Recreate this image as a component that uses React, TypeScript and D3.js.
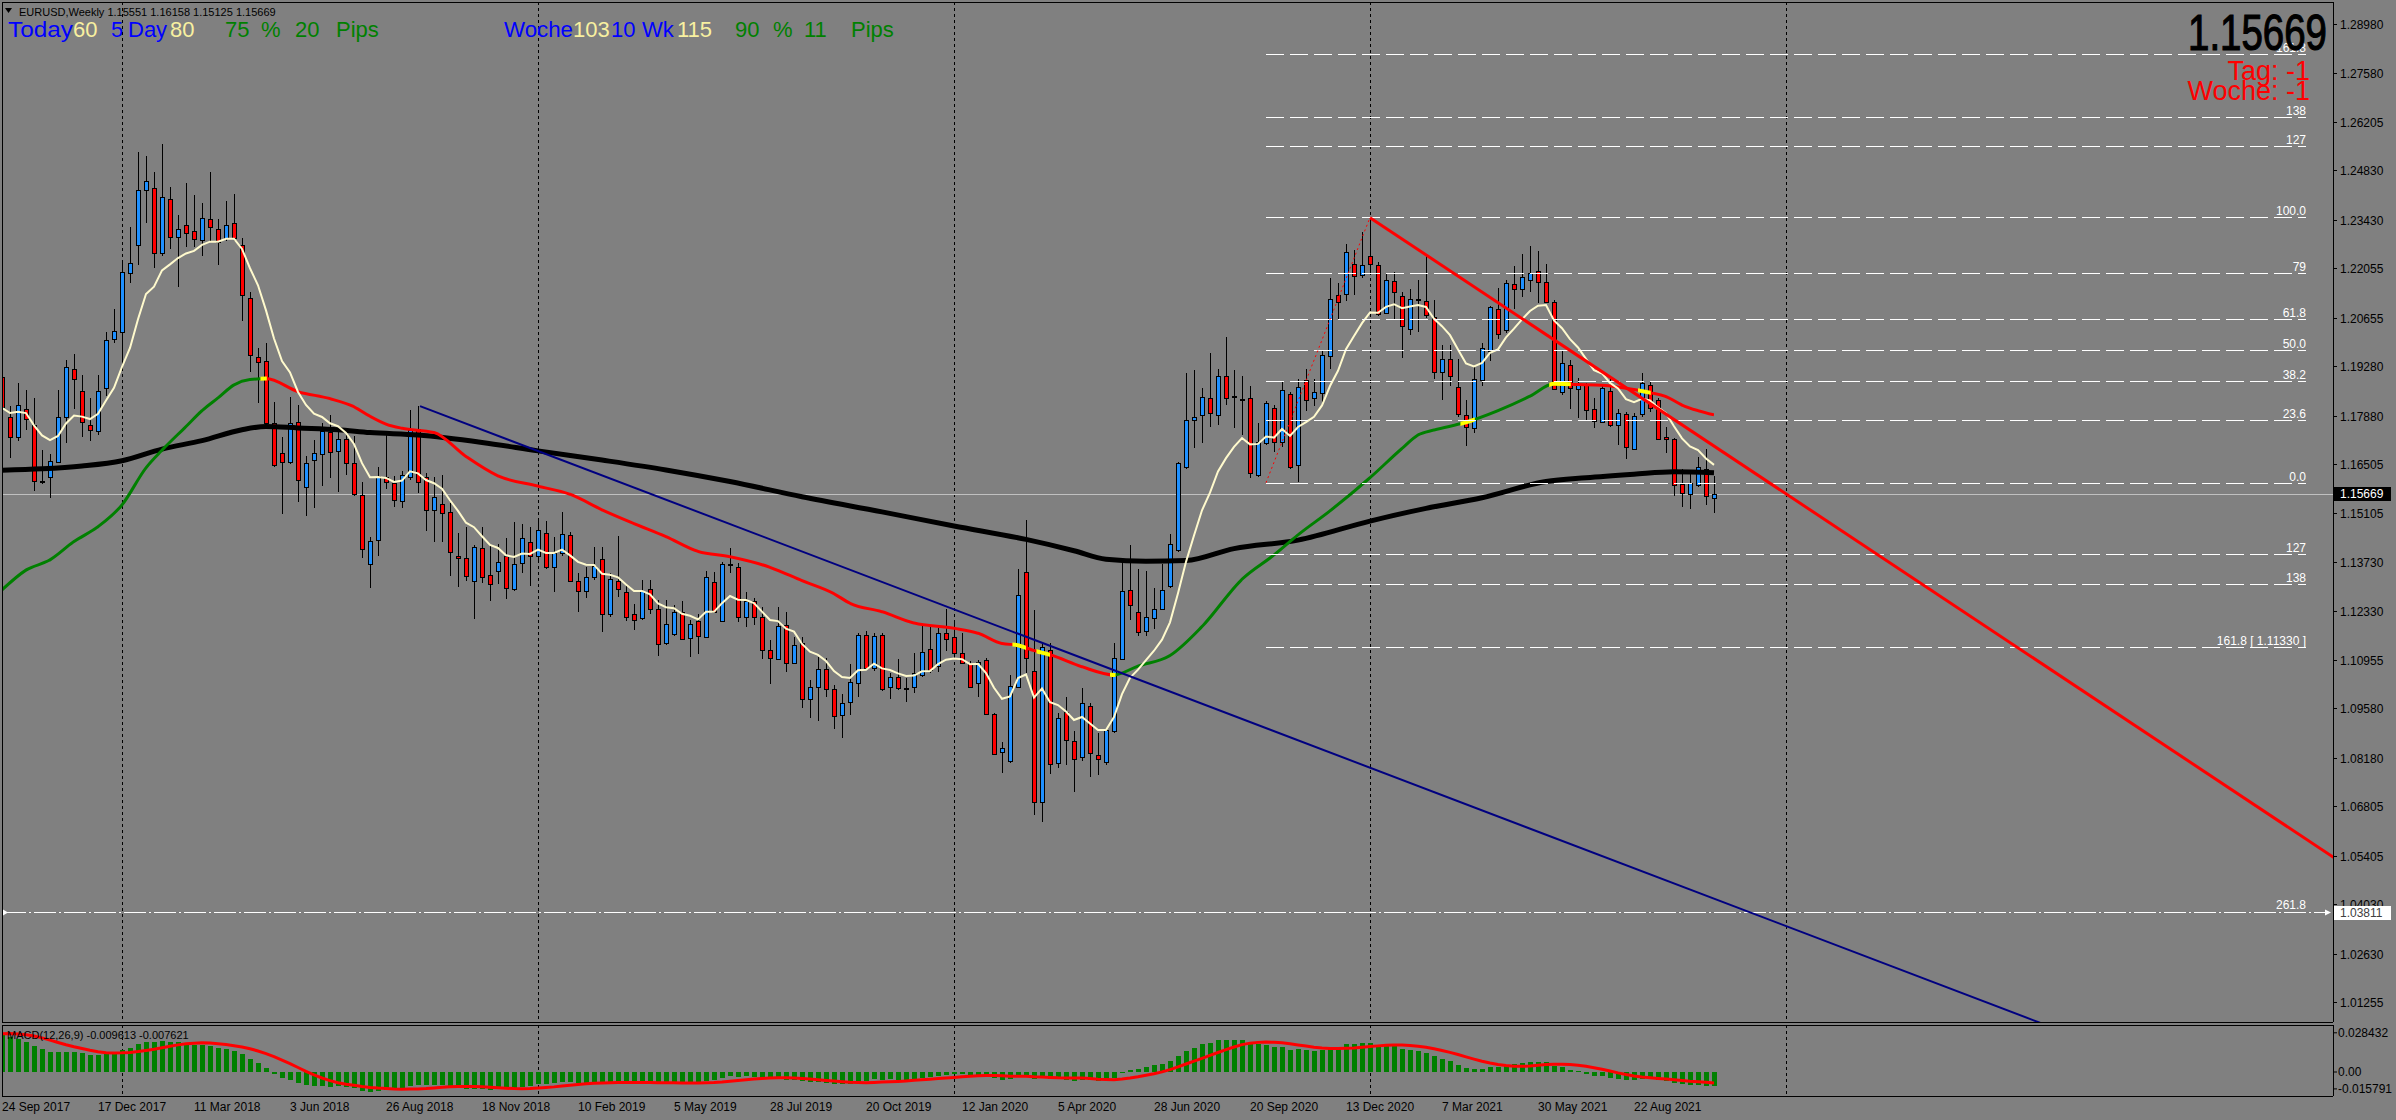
import React from 'react';
import * as d3 from 'd3';

const W = 2396;
const H = 1120;
const FIRST_WEEK = new Date(2017, 8, 24);
const LAST_GRID_YEAR = 2022;

// weekly closes before the first visible bar (Jul 2016 .. Sep 2017), used for indicator warm-up
const priorCloses = [
  1.1050, 1.1040, 1.0976, 1.1174, 1.1087, 1.1165, 1.1324, 1.1198, 1.1155, 1.1233, 1.1155, 1.1226, 1.1240,
  1.1200, 1.0972, 1.0882, 1.0985, 1.1140, 1.0850, 1.0588, 1.0590, 1.0664, 1.0560, 1.0450, 1.0455, 1.0520,
  1.0531, 1.0645, 1.0704, 1.0697, 1.0785, 1.0640, 1.0615, 1.0563, 1.0620, 1.0672, 1.0740, 1.0800, 1.0650,
  1.0590, 1.0615, 1.0727, 1.0895, 1.0998, 1.0932, 1.1206, 1.1183, 1.1280, 1.1196, 1.1197, 1.1195, 1.1425,
  1.1400, 1.1470, 1.1665, 1.1750, 1.1773, 1.1820, 1.1760, 1.1925, 1.1860, 1.2036, 1.1944, 1.1950,
];

const barOpen = [
  1.1896, 1.1785, 1.1728, 1.1808, 1.1760, 1.1604, 1.1613, 1.1656, 1.1783, 1.1919, 1.1859, 1.1761, 1.1743, 1.1866, 1.2004, 1.2025,
  1.2191, 1.2271, 1.2428, 1.2434, 1.2248, 1.2401, 1.2293, 1.2329, 1.2312, 1.2286, 1.2346, 1.2318, 1.2291, 1.2333, 1.2271, 1.2122,
  1.1955, 1.1942, 1.1768, 1.1683, 1.1656, 1.1771, 1.1585, 1.1662, 1.1679, 1.1741, 1.1689, 1.1723, 1.1653, 1.1564, 1.1367, 1.1435,
  1.1613, 1.1596, 1.1547, 1.1615, 1.1749, 1.1615, 1.1520, 1.1536, 1.1514, 1.1390, 1.1383, 1.1318, 1.1412, 1.1335, 1.1348, 1.1390,
  1.1297, 1.1369, 1.1431, 1.1390, 1.1454, 1.1358, 1.1398, 1.1449, 1.1318, 1.1290, 1.1330, 1.1381, 1.1227, 1.1318, 1.1287, 1.1225,
  1.1214, 1.1297, 1.1241, 1.1142, 1.1168, 1.1230, 1.1157, 1.1207, 1.1159, 1.1315, 1.1207, 1.1368, 1.1358, 1.1218, 1.1263, 1.1216,
  1.1123, 1.1097, 1.1194, 1.1088, 1.1142, 1.0984, 1.1020, 1.1071, 1.1012, 1.0938, 1.0977, 1.1029, 1.1165, 1.1073, 1.1165, 1.1020,
  1.1046, 1.1015, 1.1020, 1.1053, 1.1125, 1.1079, 1.1171, 1.1159, 1.1114, 1.1084, 1.1029, 1.1094, 1.0941, 1.0835, 1.0810, 1.1020,
  1.1344, 1.1064, 1.0693, 1.1124, 1.0802, 1.0949, 1.0865, 1.0819, 1.0965, 1.0826, 1.0805, 1.0894, 1.1098, 1.1293, 1.1230, 1.1176,
  1.1214, 1.1241, 1.1304, 1.1407, 1.1641, 1.1775, 1.1789, 1.1837, 1.1789, 1.1901, 1.1844, 1.1836, 1.1837, 1.1621, 1.1709, 1.1810,
  1.1714, 1.1849, 1.1648, 1.1888, 1.1839, 1.1851, 1.1958, 1.2129, 1.2134, 1.2217, 1.2187, 1.2239, 1.2214, 1.2080, 1.2169, 1.2126,
  1.2034, 1.2119, 1.2112, 1.2067, 1.1911, 1.1948, 1.1868, 1.1790, 1.1754, 1.1889, 1.1972, 1.2089, 1.2031, 1.2160, 1.2146, 1.2172,
  1.2197, 1.2166, 1.2109, 1.1854, 1.1930, 1.1862, 1.1875, 1.1806, 1.1771, 1.1859, 1.1760, 1.1792, 1.1692, 1.1792, 1.1876, 1.1832,
  1.1726, 1.1722, 1.1593, 1.1566, 1.1591, 1.1636, 1.15551,
];
const barHigh = [
  1.1936, 1.1815, 1.1879, 1.1861, 1.1837, 1.1690, 1.1678, 1.1861, 1.1946, 1.1962, 1.1902, 1.1837, 1.1902, 1.2025, 1.2089, 1.2229,
  1.2322, 1.2536, 1.2524, 1.2478, 1.2557, 1.2435, 1.2357, 1.2446, 1.2412, 1.2390, 1.2478, 1.2345, 1.2396, 1.2416, 1.2291, 1.2139,
  1.1979, 1.1995, 1.1827, 1.1728, 1.1841, 1.1819, 1.1673, 1.1719, 1.1766, 1.1790, 1.1747, 1.1738, 1.1730, 1.1601, 1.1445, 1.1643,
  1.1733, 1.1617, 1.1632, 1.1804, 1.1815, 1.1626, 1.1615, 1.1620, 1.1541, 1.1454, 1.1473, 1.1421, 1.1473, 1.1419, 1.1424, 1.1442,
  1.1487, 1.1481, 1.1473, 1.1492, 1.1489, 1.1445, 1.1514, 1.1459, 1.1343, 1.1360, 1.1416, 1.1416, 1.1341, 1.1447, 1.1306, 1.1254,
  1.1322, 1.1322, 1.1265, 1.1265, 1.1250, 1.1262, 1.1210, 1.1227, 1.1347, 1.1346, 1.1374, 1.1413, 1.1371, 1.1287, 1.1270, 1.1246,
  1.1152, 1.1246, 1.1230, 1.1161, 1.1161, 1.1038, 1.1105, 1.1100, 1.1024, 1.0999, 1.1084, 1.1173, 1.1177, 1.1173, 1.1173, 1.1057,
  1.1098, 1.1043, 1.1114, 1.1192, 1.1190, 1.1187, 1.1240, 1.1209, 1.1173, 1.1092, 1.1095, 1.1100, 1.0944, 1.0862, 1.1052, 1.1352,
  1.1492, 1.1237, 1.1142, 1.1144, 1.0946, 1.0989, 1.0894, 1.1017, 1.0972, 1.0887, 1.0899, 1.1142, 1.1377, 1.1421, 1.1352, 1.1347,
  1.1299, 1.1367, 1.1452, 1.1656, 1.1909, 1.1917, 1.1865, 1.1966, 1.1921, 1.2010, 1.1917, 1.1899, 1.1872, 1.1768, 1.1829, 1.1817,
  1.1882, 1.1856, 1.1892, 1.1919, 1.1892, 1.1973, 1.2178, 1.2165, 1.2275, 1.2256, 1.2309, 1.2350, 1.2222, 1.2190, 1.2194, 1.2139,
  1.2148, 1.2171, 1.2239, 1.2116, 1.1989, 1.1989, 1.1947, 1.1832, 1.1925, 1.1995, 1.2099, 1.2149, 1.2172, 1.2212, 1.2246, 1.2269,
  1.2255, 1.2218, 1.2116, 1.1974, 1.1945, 1.1894, 1.1879, 1.1837, 1.1875, 1.1898, 1.1808, 1.1799, 1.1794, 1.1908, 1.1884, 1.1837,
  1.1755, 1.1724, 1.1638, 1.1626, 1.1670, 1.1692, 1.16158,
];
const barLow = [
  1.1714, 1.1667, 1.1717, 1.1747, 1.1575, 1.1594, 1.1553, 1.1653, 1.1711, 1.1806, 1.1728, 1.1717, 1.1734, 1.1844, 1.1995, 1.1920,
  1.2165, 1.2214, 1.2335, 1.2206, 1.2239, 1.2259, 1.2153, 1.2267, 1.2267, 1.2239, 1.2281, 1.2214, 1.2284, 1.2284, 1.2055, 1.1911,
  1.1823, 1.1764, 1.1643, 1.1508, 1.1651, 1.1542, 1.1504, 1.1525, 1.1588, 1.1610, 1.1572, 1.1620, 1.1560, 1.1383, 1.1298, 1.1390,
  1.1579, 1.1528, 1.1525, 1.1605, 1.1568, 1.1462, 1.1431, 1.1431, 1.1334, 1.1301, 1.1320, 1.1212, 1.1314, 1.1263, 1.1310, 1.1267,
  1.1292, 1.1341, 1.1305, 1.1379, 1.1352, 1.1287, 1.1390, 1.1316, 1.1232, 1.1272, 1.1322, 1.1174, 1.1218, 1.1273, 1.1207, 1.1180,
  1.1209, 1.1227, 1.1106, 1.1138, 1.1163, 1.1152, 1.1105, 1.1112, 1.1157, 1.1230, 1.1204, 1.1343, 1.1204, 1.1190, 1.1194, 1.1097,
  1.1026, 1.1095, 1.1062, 1.1086, 1.0958, 1.0930, 1.0923, 1.0991, 1.0901, 1.0875, 1.0938, 1.0989, 1.1067, 1.1065, 1.1008, 1.0986,
  1.1010, 1.0977, 1.1001, 1.1048, 1.1057, 1.1062, 1.1122, 1.1100, 1.1084, 1.1015, 1.0989, 1.0938, 1.0826, 1.0774, 1.0804, 1.1018,
  1.1057, 1.0655, 1.0636, 1.0771, 1.0788, 1.0797, 1.0722, 1.0810, 1.0763, 1.0770, 1.0798, 1.0887, 1.1095, 1.1209, 1.1163, 1.1163,
  1.1182, 1.1238, 1.1299, 1.1402, 1.1638, 1.1695, 1.1709, 1.1755, 1.1761, 1.1817, 1.1753, 1.1734, 1.1612, 1.1615, 1.1704, 1.1685,
  1.1699, 1.1638, 1.1599, 1.1802, 1.1814, 1.1821, 1.1919, 1.2058, 1.2114, 1.2129, 1.2178, 1.2192, 1.2071, 1.2077, 1.2061, 1.1950,
  1.2017, 1.2025, 1.2065, 1.1892, 1.1833, 1.1872, 1.1785, 1.1702, 1.1740, 1.1872, 1.1944, 1.2004, 1.2021, 1.2089, 1.2125, 1.2139,
  1.2106, 1.2106, 1.1860, 1.1846, 1.1806, 1.1780, 1.1774, 1.1752, 1.1766, 1.1757, 1.1705, 1.1664, 1.1690, 1.1783, 1.1799, 1.1721,
  1.1681, 1.1561, 1.1528, 1.1522, 1.1586, 1.1534, 1.15125,
];
const barClose = [
  1.1811, 1.1728, 1.1817, 1.1777, 1.1604, 1.1604, 1.1658, 1.1783, 1.1925, 1.1891, 1.1770, 1.1747, 1.1859, 1.2002, 1.2028, 1.2194,
  1.2220, 1.2428, 1.2454, 1.2248, 1.2407, 1.2293, 1.2316, 1.2305, 1.2288, 1.2349, 1.2322, 1.2281, 1.2327, 1.2290, 1.2130, 1.1959,
  1.1940, 1.1766, 1.1647, 1.1656, 1.1766, 1.1605, 1.1653, 1.1681, 1.1743, 1.1685, 1.1721, 1.1653, 1.1566, 1.1409, 1.1433, 1.1617,
  1.1600, 1.1549, 1.1621, 1.1747, 1.1599, 1.1520, 1.1556, 1.1511, 1.1400, 1.1383, 1.1333, 1.1415, 1.1330, 1.1311, 1.1374, 1.1298,
  1.1367, 1.1440, 1.1390, 1.1463, 1.1358, 1.1398, 1.1451, 1.1318, 1.1290, 1.1330, 1.1362, 1.1227, 1.1324, 1.1297, 1.1216, 1.1210,
  1.1291, 1.1239, 1.1140, 1.1196, 1.1230, 1.1154, 1.1196, 1.1164, 1.1330, 1.1230, 1.1367, 1.1368, 1.1218, 1.1263, 1.1216, 1.1123,
  1.1102, 1.1192, 1.1088, 1.1137, 1.0984, 1.1020, 1.1069, 1.1014, 1.0936, 1.0972, 1.1032, 1.1165, 1.1073, 1.1162, 1.1012, 1.1046,
  1.1015, 1.1015, 1.1057, 1.1118, 1.1067, 1.1171, 1.1154, 1.1114, 1.1088, 1.1020, 1.1089, 1.0941, 1.0828, 1.0845, 1.1021, 1.1279,
  1.1100, 1.0693, 1.1133, 1.0800, 1.0930, 1.0868, 1.0816, 1.0972, 1.0831, 1.0814, 1.0897, 1.1100, 1.1291, 1.1251, 1.1174, 1.1216,
  1.1241, 1.1294, 1.1423, 1.1654, 1.1775, 1.1784, 1.1841, 1.1794, 1.1901, 1.1837, 1.1844, 1.1836, 1.1626, 1.1714, 1.1823, 1.1712,
  1.1860, 1.1641, 1.1870, 1.1831, 1.1854, 1.1961, 1.2119, 1.2109, 1.2251, 1.2183, 1.2214, 1.2217, 1.2075, 1.2171, 1.2138, 1.2041,
  1.2119, 1.2119, 1.2072, 1.1911, 1.1948, 1.1901, 1.1792, 1.1757, 1.1892, 1.1981, 1.2095, 1.2019, 1.2163, 1.2146, 1.2180, 1.2191,
  1.2167, 1.2109, 1.1862, 1.1936, 1.1865, 1.1875, 1.1804, 1.1773, 1.1865, 1.1760, 1.1794, 1.1698, 1.1788, 1.1879, 1.1809, 1.1723,
  1.1721, 1.1591, 1.1569, 1.1598, 1.1643, 1.1560, 1.15669,
];

// 200-week moving average (black)
const slowMaBars = [0, 5, 10, 15, 20, 25, 30, 33, 37, 42, 46, 52, 60, 67, 75, 83, 91, 100, 110, 119, 128, 134, 138, 143, 148, 154, 162, 171, 178, 185, 193, 198, 204, 209, 214];
const slowMaValues = [1.1633, 1.1637, 1.1645, 1.1660, 1.1693, 1.1717, 1.1748, 1.1757, 1.1753, 1.1748, 1.1740, 1.1733, 1.1712, 1.1688, 1.1662, 1.1634, 1.1601, 1.1558, 1.1515, 1.1475, 1.1437, 1.1405, 1.1381, 1.1375, 1.1377, 1.1411, 1.1435, 1.1489, 1.1525, 1.1555, 1.1601, 1.1612, 1.1622, 1.1629, 1.1626];

// trend-coloured moving average (green rising / red falling)
const midMaBars = [0, 3, 6, 9, 12, 15, 18, 20, 23, 25, 27, 29, 31, 33, 37, 41, 44, 46, 48, 50, 54, 58, 62, 67, 71, 75, 79, 83, 87, 91, 96, 100, 104, 106, 110, 114, 119, 122, 125, 127, 129, 131, 135, 139, 142, 146, 150, 155, 159, 162, 166, 171, 175, 177, 179, 183, 187, 191, 194, 197, 200, 204, 206, 208, 210, 212, 214];
const midMaValues = [1.1294, 1.1350, 1.1379, 1.1431, 1.1473, 1.1535, 1.1640, 1.1690, 1.1757, 1.1802, 1.1838, 1.1875, 1.1890, 1.1893, 1.1856, 1.1836, 1.1813, 1.1786, 1.1764, 1.1752, 1.1740, 1.1672, 1.1617, 1.1588, 1.1565, 1.1521, 1.1482, 1.1445, 1.1403, 1.1388, 1.1358, 1.1320, 1.1283, 1.1256, 1.1232, 1.1200, 1.1185, 1.1171, 1.1142, 1.1137, 1.1122, 1.1110, 1.1076, 1.1053, 1.1078, 1.1108, 1.1190, 1.1324, 1.1393, 1.1450, 1.1518, 1.1612, 1.1695, 1.1733, 1.1747, 1.1769, 1.1802, 1.1843, 1.1878, 1.1876, 1.1874, 1.1862, 1.1853, 1.1842, 1.1818, 1.1802, 1.1790];
const midMaTurns = [[32.3, 33.1], [126.3, 128], [129.3, 131], [138.5, 139.2], [182.3, 184.1], [193.4, 196.1], [204.5, 206.1]];
const FAST_PERIOD = 10;

const priceTicks = [1.2898, 1.2758, 1.26205, 1.2483, 1.2343, 1.22055, 1.20655, 1.1928, 1.1788, 1.16505, 1.15105, 1.1373, 1.1233, 1.10955, 1.0958, 1.0818, 1.06805, 1.05405, 1.0403, 1.0263, 1.01255];
const macdTickLabels = ['0.028432', '0.00', '-0.015791'];
const macdRange = [-0.015791, 0.028432];

const fibLow = 1.15977;
const fibHigh = 1.23496;
const fibLowBar = 158;
const fibHighBar = 171;
const fibEndBar = 288;
const fibLevels = [0, 23.6, 38.2, 50, 61.8, 79, 100, 127, 138, 161.8];
const fibLabels = ['0.0', '23.6', '38.2', '50.0', '61.8', '79', '100.0', '127', '138', '161.8'];
const fibExtLevels = [127, 138, 161.8];
const fibExtLabels = ['127', '138', '161.8 [ 1.11330 ]'];
const targetPrice = 1.03811;
const targetLabel = '261.8';

const redTrend = [[171, 1.2349], [291.5, 1.0535]];
const navyTrend = [[52.25, 1.1815], [254.4, 1.0070]];

const headerText = 'EURUSD,Weekly  1.15551 1.16158 1.15125 1.15669';
const macdText = 'MACD(12,26,9) -0.009613 -0.007621';
const lastPrice = 1.15669;

const BLUE = '#1E90FF';
const RED = '#FF0000';
const GREEN = '#008000';
const CREAM = '#FFFACD';
const TXT_BLUE = '#0000FF';
const TXT_YEL = '#F8F0A0';
const TXT_GRN = '#008000';

const L = 2, R = 2333, TOP = 2, MAIN_B = 1022, MACD_T = 1025, MACD_B = 1096;

function sma(arr: number[], n: number, idx: number) {
  let s = 0;
  for (let k = idx - n + 1; k <= idx; k++) s += arr[k];
  return s / n;
}

export default function App() {
  const x = d3.scaleLinear().domain([0, 290]).range([2, 2322]);
  const y = d3.scaleLinear().domain([1.01255, 1.2898]).range([1002.1, 24]);
  const ym = d3.scaleLinear().domain(macdRange).range([1094.9, 1030.8]);

  const n = barClose.length;
  const all = [...priorCloses, ...barClose];
  const off = priorCloses.length;

  const ema = (p: number) => {
    const a = 2 / (p + 1);
    const out: number[] = [];
    let e = all[0];
    all.forEach((c) => { e = e + a * (c - e); out.push(e); });
    return out;
  };
  const fastAll = ema(FAST_PERIOD);
  const fast = barClose.map((_, i) => fastAll[off + i]);
  const e12 = ema(12), e26 = ema(26);
  const mainAll = all.map((_, j) => e12[j] - e26[j]);
  const macdMain = barClose.map((_, i) => mainAll[off + i]);
  const macdSig = barClose.map((_, i) => sma(mainAll, 9, off + i));

  const dates = d3.range(0, 291).map((i) => d3.timeWeek.offset(FIRST_WEEK, i));
  const yearStarts = dates
    .map((d, i) => (i > 0 && d.getFullYear() !== dates[i - 1].getFullYear() && d.getFullYear() <= LAST_GRID_YEAR ? i : -1))
    .filter((i) => i >= 0);
  const labelBars = d3.range(0, n, 12);
  const fmt = d3.timeFormat('%-d %b %Y');

  const lineXY = d3.line<[number, number]>().x((d) => x(d[0])).y((d) => y(d[1]));
  const smooth = d3.line<[number, number]>().x((d) => x(d[0])).y((d) => y(d[1])).curve(d3.curveMonotoneX);
  const slowPts = slowMaBars.map((b, k) => [b, slowMaValues[k]] as [number, number]);
  const midPts = midMaBars.map((b, k) => [b, midMaValues[k]] as [number, number]);
  const midPath = smooth(midPts) || '';
  const fastPath = lineXY(fast.map((v, i) => [i, v] as [number, number])) || '';

  const extend = (seg: number[][], toBar: number): [number, number][] => {
    const [[b1, p1], [b2, p2]] = seg;
    const slope = (p2 - p1) / (b2 - b1);
    return [[b1, p1], [toBar, p1 + slope * (toBar - b1)]];
  };

  const fibPrice = (lv: number) => fibLow + (lv / 100) * (fibHigh - fibLow);
  const fibExtPrice = (lv: number) => fibHigh - (lv / 100) * (fibHigh - fibLow);
  const fibX1 = x(fibLowBar), fibX2 = x(fibEndBar);

  const font = "'Liberation Sans', Arial, sans-serif";
  const macd0 = ym(0);

  return (
    <svg width={W} height={H} style={{ position: 'fixed', left: 0, top: 0 }} fontFamily={font}>
      <defs>
        <clipPath id="mainClip"><rect x={L} y={TOP} width={R - L} height={MAIN_B - TOP} /></clipPath>
        <clipPath id="macdClip"><rect x={L} y={MACD_T} width={R - L} height={MACD_B - MACD_T} /></clipPath>
        {midPts.slice(0, -1).map((p, k) => (
          <clipPath key={k} id={`midSeg${k}`}>
            <rect x={x(p[0])} y={0} width={x(midPts[k + 1][0]) - x(p[0]) + 0.01} height={H} />
          </clipPath>
        ))}
        {midMaTurns.map((t, k) => (
          <clipPath key={k} id={`midTurn${k}`}>
            <rect x={x(t[0])} y={0} width={x(t[1]) - x(t[0])} height={H} />
          </clipPath>
        ))}
      </defs>
      <rect x={0} y={0} width={W} height={H} fill="#808080" />

      {/* grid */}
      {yearStarts.map((b) => (
        <g key={b}>
          <line x1={Math.round(x(b)) + 0.5} x2={Math.round(x(b)) + 0.5} y1={TOP} y2={MAIN_B} stroke="#000" strokeDasharray="3 3" />
          <line x1={Math.round(x(b)) + 0.5} x2={Math.round(x(b)) + 0.5} y1={MACD_T} y2={MACD_B} stroke="#000" strokeDasharray="3 3" />
        </g>
      ))}

      <g clipPath="url(#mainClip)">
        {/* current price line */}
        <line x1={L} x2={R} y1={Math.round(y(lastPrice)) + 0.5} y2={Math.round(y(lastPrice)) + 0.5} stroke="#C0C0C0" />

        {/* candles */}
        <g shapeRendering="crispEdges">
          {barClose.map((c, i) => {
            const o = barOpen[i];
            const cx = Math.round(x(i));
            const yt = Math.round(y(Math.max(o, c)));
            const yb = Math.round(y(Math.min(o, c)));
            const col = c > o ? BLUE : c < o ? RED : '#000';
            const h = Math.max(1, yb - yt);
            return (
              <g key={i}>
                <rect x={cx} y={Math.round(y(barHigh[i]))} width={1} height={Math.round(y(barLow[i])) - Math.round(y(barHigh[i]))} fill="#000" />
                <rect x={cx - 2} y={yt} width={5} height={h + 1} fill="#000" />
                {h > 1 && <rect x={cx - 1} y={yt + 1} width={3} height={h - 1} fill={col} />}
              </g>
            );
          })}
        </g>

        {/* moving averages */}
        <path d={smooth(slowPts) || ''} fill="none" stroke="#000" strokeWidth={5} />
        {midPts.slice(0, -1).map((p, k) => (
          <path key={k} d={midPath} fill="none" stroke={midPts[k + 1][1] >= p[1] ? GREEN : RED} strokeWidth={3} clipPath={`url(#midSeg${k})`} />
        ))}
        {midMaTurns.map((_, k) => (
          <path key={k} d={midPath} fill="none" stroke="#FFFF00" strokeWidth={4} clipPath={`url(#midTurn${k})`} />
        ))}
        <path d={fastPath} fill="none" stroke={CREAM} strokeWidth={2} />

        {/* fibonacci */}
        {fibLevels.map((lv, k) => {
          const yy = Math.round(y(fibPrice(lv))) + 0.5;
          return (
            <g key={k}>
              <line x1={fibX1} x2={fibX2} y1={yy} y2={yy} stroke="#FFF" strokeDasharray="18 6" />
              <text x={fibX2} y={yy - 3} textAnchor="end" fontSize={12} fill="#FFF">{fibLabels[k]}</text>
            </g>
          );
        })}
        {fibExtLevels.map((lv, k) => {
          const yy = Math.round(y(fibExtPrice(lv))) + 0.5;
          return (
            <g key={k}>
              <line x1={fibX1} x2={fibX2} y1={yy} y2={yy} stroke="#FFF" strokeDasharray="18 6" />
              <text x={fibX2} y={yy - 3} textAnchor="end" fontSize={12} fill="#FFF">{fibExtLabels[k]}</text>
            </g>
          );
        })}
        <path d={lineXY([[fibLowBar, fibLow], [fibHighBar, fibHigh]]) || ''} stroke={RED} strokeDasharray="2 3" fill="none" />
        {(() => {
          const yy = Math.round(y(targetPrice)) + 0.5;
          return (
            <g>
              <line x1={4} x2={R - 6} y1={yy} y2={yy} stroke="#FFF" strokeDasharray="22 3 2 3" />
              <polygon points={`${R - 8},${yy - 3} ${R - 2},${yy} ${R - 8},${yy + 3}`} fill="#FFF" />
              <polygon points={`3,${yy - 3} 8,${yy} 3,${yy + 3}`} fill="#FFF" />
              <text x={fibX2} y={yy - 4} textAnchor="end" fontSize={12} fill="#FFF">{targetLabel}</text>
            </g>
          );
        })()}

        {/* trend lines */}
        <path d={lineXY(extend(navyTrend, 300)) || ''} stroke="#000080" strokeWidth={2} fill="none" />
        <path d={lineXY(extend(redTrend, 300)) || ''} stroke={RED} strokeWidth={3} fill="none" />
      </g>

      {/* MACD */}
      <g clipPath="url(#macdClip)" shapeRendering="crispEdges">
        {macdMain.map((v, i) => {
          const cx = Math.round(x(i));
          const yv = ym(v);
          return <rect key={i} x={cx - 2} y={Math.min(yv, macd0)} width={5} height={Math.max(1, Math.abs(yv - macd0))} fill={GREEN} />;
        })}
      </g>
      <g clipPath="url(#macdClip)">
        <path d={d3.line<number>().x((_, i) => x(i)).y((v) => ym(v))(macdSig) || ''} stroke={RED} strokeWidth={3} fill="none" />
      </g>
      <text x={7} y={1039} fontSize={11} fill="#000">{macdText}</text>

      {/* frames */}
      <g stroke="#000" shapeRendering="crispEdges">
        <line x1={L} x2={L} y1={TOP} y2={MAIN_B} />
        <line x1={L} x2={R} y1={TOP} y2={TOP} />
        <line x1={L} x2={R} y1={MAIN_B} y2={MAIN_B} />
        <line x1={L} x2={L} y1={MACD_T} y2={MACD_B} />
        <line x1={L} x2={R} y1={MACD_T} y2={MACD_T} />
        <line x1={L} x2={R} y1={MACD_B} y2={MACD_B} />
        <line x1={R} x2={R} y1={TOP} y2={MAIN_B} />
        <line x1={R} x2={R} y1={MACD_T} y2={MACD_B} />
      </g>

      {/* price axis */}
      {priceTicks.map((p) => {
        const yy = Math.round(y(p)) + 0.5;
        return (
          <g key={p}>
            <line x1={R} x2={R + 4} y1={yy} y2={yy} stroke="#000" />
            <text x={2340} y={yy} dy="0.35em" fontSize={12} fill="#000">{p.toFixed(5)}</text>
          </g>
        );
      })}
      {[macdRange[1], 0, macdRange[0]].map((v, k) => {
        const yy = k === 0 ? ym(v) + 2 : k === 2 ? ym(v) - 6 : ym(v);
        return (
          <g key={k}>
            <line x1={R} x2={R + 4} y1={yy} y2={yy} stroke="#000" />
            <text x={2338} y={yy} dy="0.35em" fontSize={12} fill="#000">{macdTickLabels[k]}</text>
          </g>
        );
      })}
      <rect x={2334} y={Math.round(y(lastPrice)) - 7} width={57} height={14} fill="#000" />
      <text x={2340} y={y(lastPrice)} dy="0.35em" fontSize={12} fill="#FFF">{lastPrice.toFixed(5)}</text>
      <rect x={2334} y={Math.round(y(targetPrice)) - 6} width={57} height={14} fill="#FFF" />
      <text x={2340} y={y(targetPrice) + 1} dy="0.35em" fontSize={12} fill="#404040">{targetPrice.toFixed(5)}</text>

      {/* time axis */}
      {labelBars.map((b) => (
        <text key={b} x={x(b)} y={1111} fontSize={12} fill="#000">{fmt(dates[b])}</text>
      ))}

      {/* header texts */}
      <polygon points="5,8 12,8 8.5,13" fill="#000" />
      <text x={19} y={16} fontSize={11} fill="#000">{headerText}</text>
      <g fontSize={22}>
        <text x={8} y={37} fill={TXT_BLUE} textLength={65} lengthAdjust="spacingAndGlyphs">Today</text>
        <text x={73} y={37} fill={TXT_YEL}>60</text>
        <text x={111} y={37} fill={TXT_BLUE}>5</text>
        <text x={128} y={37} fill={TXT_BLUE}>Day</text>
        <text x={170} y={37} fill={TXT_YEL}>80</text>
        <text x={225} y={37} fill={TXT_GRN}>75</text>
        <text x={261} y={37} fill={TXT_GRN}>%</text>
        <text x={295} y={37} fill={TXT_GRN}>20</text>
        <text x={336} y={37} fill={TXT_GRN}>Pips</text>
        <text x={504} y={37} fill={TXT_BLUE} textLength={69} lengthAdjust="spacingAndGlyphs">Woche</text>
        <text x={573} y={37} fill={TXT_YEL}>103</text>
        <text x={611} y={37} fill={TXT_BLUE}>10</text>
        <text x={642} y={37} fill={TXT_BLUE}>Wk</text>
        <text x={677} y={37} fill={TXT_YEL}>115</text>
        <text x={735} y={37} fill={TXT_GRN}>90</text>
        <text x={773} y={37} fill={TXT_GRN}>%</text>
        <text x={804} y={37} fill={TXT_GRN}>11</text>
        <text x={851} y={37} fill={TXT_GRN}>Pips</text>
      </g>
      <text x={2327} y={50} textAnchor="end" fontSize={50} fill="#000" stroke="#000" strokeWidth={1.2} textLength={139} lengthAdjust="spacingAndGlyphs">{lastPrice.toFixed(5)}</text>
      <text x={2310} y={80} textAnchor="end" fontSize={27} fill={RED}>Tag: -1</text>
      <text x={2310} y={100} textAnchor="end" fontSize={27} fill={RED}>Woche: -1</text>
    </svg>
  );
}
